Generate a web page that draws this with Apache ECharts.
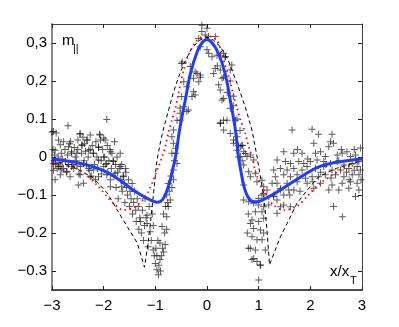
<!DOCTYPE html>
<html>
<head>
<meta charset="utf-8">
<script src="https://cdn.jsdelivr.net/npm/echarts@6/dist/echarts.min.js"></script>
<style>
  html, body { margin: 0; padding: 0; background: #fff; }
  #chart { width: 399px; height: 327px; }
</style>
</head>
<body>
<div id="chart"></div>
<script>
// axis ticks
const xTicks = [-3, -2, -1, 0, 1, 2, 3];
const yTicks = [-0.3, -0.2, -0.1, 0, 0.1, 0.2, 0.3];
const yTickText = ['\u22120.3', '\u22120.2', '\u22120.1', '0', '0.1', '0,2', '0,3'];

// model curves [x, y]
const blueFit = [[-3,-0.005],[-2.5,-0.015],[-2.07,-0.032],[-1.75,-0.055],[-1.43,-0.087],[-1.2,-0.106],[-1.05,-0.116],[-0.95,-0.119],[-0.86,-0.112],[-0.78,-0.09],[-0.71,-0.06],[-0.66,-0.03],[-0.61,0.0],[-0.52,0.08],[-0.42,0.15],[-0.32,0.22],[-0.19,0.277],[-0.1,0.3],[0,0.309],[0.1,0.3],[0.22,0.273],[0.35,0.22],[0.45,0.15],[0.55,0.071],[0.61,0.0],[0.66,-0.04],[0.72,-0.08],[0.8,-0.107],[0.9,-0.118],[1.0,-0.117],[1.15,-0.108],[1.42,-0.087],[1.75,-0.058],[2.13,-0.028],[2.5,-0.014],[3,-0.005]];

const redModel = [[-3,-0.012],[-2.94,-0.016],[-2.46,-0.034],[-2.13,-0.074],[-1.82,-0.121],[-1.62,-0.139],[-1.43,-0.134],[-1.24,-0.113],[-1.14,-0.092],[-1.04,-0.061],[-0.94,-0.026],[-0.87,0.0],[-0.81,0.026],[-0.75,0.063],[-0.68,0.097],[-0.61,0.13],[-0.55,0.168],[-0.45,0.23],[-0.35,0.27],[-0.22,0.303],[-0.1,0.316],[0,0.318],[0.1,0.316],[0.2,0.305],[0.26,0.285],[0.32,0.255],[0.45,0.197],[0.51,0.163],[0.58,0.13],[0.65,0.097],[0.74,0.063],[0.8,0.03],[0.87,0.0],[0.97,-0.052],[1.17,-0.105],[1.3,-0.128],[1.48,-0.14],[1.74,-0.13],[1.93,-0.105],[2.2,-0.068],[2.59,-0.034],[3,-0.008]];

const dashModel = [[-3,-0.008],[-2.6,-0.025],[-2.2,-0.055],[-1.93,-0.095],[-1.74,-0.139],[-1.54,-0.184],[-1.35,-0.226],[-1.21,-0.29],[-1.16,-0.245],[-1.1,-0.18],[-1.03,-0.09],[-0.97,-0.01],[-0.9,0.04],[-0.85,0.07],[-0.75,0.12],[-0.65,0.17],[-0.55,0.21],[-0.45,0.245],[-0.3,0.285],[-0.15,0.307],[0,0.315],[0.13,0.307],[0.26,0.29],[0.41,0.255],[0.58,0.194],[0.74,0.132],[0.87,0.071],[0.97,0.0],[1.0,-0.025],[1.1,-0.104],[1.16,-0.19],[1.21,-0.284],[1.42,-0.21],[1.55,-0.175],[1.74,-0.122],[1.94,-0.087],[2.16,-0.052],[2.5,-0.03],[3,-0.01]];

// measured points, by region
const ptsFarLeft = [[-3.0,0.066],[-2.92,0.063],[-2.69,0.082],[-2.98,0.02],[-2.95,0.005],[-2.96,-0.01],[-2.93,-0.02],[-2.9,-0.03],[-2.97,-0.035],[-2.88,0.0],[-2.86,-0.015],[-2.84,-0.025],[-2.82,0.01],[-2.8,-0.005],[-2.78,-0.03],[-2.75,0.02],[-2.74,-0.012],[-2.72,-0.04],[-2.7,0.005],[-2.68,-0.02],[-2.66,0.035],[-2.64,0.04],[-2.62,0.01],[-2.6,-0.02],[-2.58,-0.03],[-2.57,0.025],[-2.55,0.0],[-2.53,-0.01],[-2.5,0.045],[-2.5,0.02],[-2.48,-0.045],[-2.46,0.06],[-2.45,-0.025],[-2.43,0.01],[-2.42,0.03],[-2.4,0.052],[-2.38,-0.01],[-2.37,0.035],[-2.35,0.015],[-2.33,-0.02],[-2.31,0.045],[-2.3,0.0],[-2.28,-0.035],[-2.26,0.02],[-2.24,-0.05],[-2.22,0.03],[-2.2,0.01],[-2.18,-0.02],[-2.16,-0.06],[-2.15,0.04],[-2.13,0.0],[-2.12,-0.03],[-2.1,0.025],[-2.08,0.06],[-2.06,0.045],[-2.05,-0.01],[-2.04,-0.045],[-2.02,0.02],[-2.0,0.05],[-2.0,-0.025],
  [-2.97,0.067],[-2.875,0.045],[-2.84,0.032],[-2.94,0.018],[-2.78,0.04],[-2.68,0.027],[-2.62,0.014],[-2.52,0.01],[-2.42,0.032],[-2.455,0.062],[-2.33,0.045],[-2.26,0.058],[-2.29,0.018],[-2.2,0.01],[-2.1,0.027],[-2.07,0.058],[-1.97,0.045],[-2.0,0.0],[-2.1,-0.008],[-1.94,-0.017],[-1.87,0.014],[-1.81,-0.012],[-1.68,-0.025],[-1.58,-0.03],[-2.97,-0.017],[-2.875,-0.025],[-2.81,-0.034],[-2.71,-0.038],[-2.62,-0.025],[-2.52,-0.021],[-2.39,-0.017],[-2.29,-0.03],[-2.2,-0.034],[-2.84,-0.047],[-2.65,-0.052],[-2.455,-0.047],[-2.26,-0.052],[-2.1,-0.052],[-1.94,-0.047],[-1.78,-0.043],[-1.62,-0.052],[-2.94,-0.06],[-2.49,-0.074],[-2.39,-0.069],[-1.87,-0.078],[-1.65,-0.078]];

const ptsLeftDip = [[-1.98,0.0],[-1.96,-0.02],[-1.94,0.099],[-1.93,0.03],[-1.92,-0.04],[-1.9,-0.01],[-1.88,0.02],[-1.87,-0.06],[-1.85,-0.03],[-1.84,0.01],[-1.82,-0.01],[-1.8,-0.05],[-1.79,0.04],[-1.77,-0.02],[-1.76,-0.08],[-1.74,0.0],[-1.73,-0.04],[-1.72,-0.11],[-1.7,-0.03],[-1.68,0.01],[-1.67,-0.06],[-1.65,-0.02],[-1.64,-0.09],[-1.62,-0.05],[-1.6,-0.07],[-1.59,-0.12],[-1.57,-0.04],[-1.56,-0.08],[-1.54,-0.1],[-1.52,-0.06],[-1.5,-0.13],[-1.49,-0.09],[-1.47,-0.11],[-1.45,-0.07],[-1.44,-0.15],[-1.42,-0.12],[-1.4,-0.09],[-1.38,-0.14],[-1.37,-0.17],[-1.35,-0.11],[-1.33,-0.13],[-1.32,-0.19],[-1.3,-0.16],
  [-1.29,-0.17],[-1.27,-0.2],[-1.25,-0.14],[-1.23,-0.22],[-1.21,-0.18],[-1.2,-0.11],[-1.18,-0.16],[-1.16,-0.175],[-1.16,-0.153],[-1.14,-0.236],[-1.12,-0.13],[-1.1,-0.197],[-1.08,-0.22],[-1.06,-0.15],[-1.04,-0.245],[-1.04,-0.18],[-1.02,-0.26],[-1.0,-0.28],[-0.99,-0.24],[-0.97,-0.26],[-0.97,-0.297],[-0.95,-0.22],[-0.94,-0.31],[-0.93,-0.285],[-0.91,-0.27],[-0.91,-0.226],[-0.9,-0.3],[-0.88,-0.26],[-0.87,-0.183],[-0.86,-0.24],[-0.84,-0.25],[-0.84,-0.15],[-0.82,-0.2],[-0.81,-0.23],[-0.8,-0.13],[-0.78,-0.19],[-0.78,-0.157],[-0.78,-0.1],[-0.76,-0.12],[-0.75,-0.13],[-0.75,-0.07],[-0.73,-0.09],[-0.71,-0.113],[-0.7,-0.05],[-0.68,-0.08],[-0.65,-0.06],[-0.65,-0.034],[-0.63,-0.01],[-0.61,0.01],[-0.58,-0.017]];

const ptsPeak = [[-0.1,0.347],[0.0,0.339],[0.063,0.352],[-0.033,0.321],[0.031,0.317],[-0.1,0.33],[-0.16,0.312],[0.16,0.317],[-0.13,0.29],[0.0,0.282],[0.031,0.273],[0.096,0.264],[0.193,0.268],[0.322,0.273],[0.354,0.264],[-0.49,0.246],[-0.325,0.238],[-0.23,0.224],[-0.195,0.22],[-0.13,0.216],[-0.26,0.207],[-0.16,0.198],[-0.45,0.198],[-0.39,0.185],[-0.26,0.172],[-0.23,0.163],[-0.29,0.159],[-0.49,0.159],[0.128,0.22],[0.16,0.233],[0.257,0.229],[0.29,0.207],[0.225,0.19],[0.257,0.176],[0.45,0.229],[0.48,0.242],[0.322,0.154],[0.45,0.128],[0.29,0.15],[-0.45,0.132],[-0.39,0.12],[-0.36,0.124],[-0.52,0.115],[-0.58,0.097],[-0.65,0.071],[-0.68,0.053],[-0.65,0.036],[-0.61,0.023],[-0.68,0.01],[-0.52,0.097],[0.257,0.088],[0.45,0.062],[0.515,0.045],[0.58,0.053],[0.645,0.027],[0.71,0.014],[0.645,0.001],[0.774,0.001],[0.55,0.097],[0.387,0.097],[0.322,0.071],
  [-0.48,0.25],[-0.52,0.129],[0.26,0.268],[0.35,0.263],[0.2,0.24],[0.32,0.21],[0.45,0.2],[0.39,0.17],[0.51,0.16],[0.51,0.135],[0.32,0.097],[0.26,0.09],[0.58,0.1],[0.64,0.07],[0.68,0.03],[0.61,0.03],[0.61,0.0],[0.68,-0.01],[-0.13,0.21]];

const ptsRightDip = [[0.516,0.036],[0.678,0.031],[0.58,0.018],[0.742,0.009],[0.839,0.005],[0.904,-0.008],[0.71,-0.021],[0.807,-0.039],[0.936,-0.043],[0.839,-0.052],[0.968,-0.065],[1.065,-0.061],[1.097,-0.078],[1.162,-0.087],[1.065,-0.1],[1.097,-0.096],[1.0,-0.109],[0.71,-0.113],[0.807,-0.118],[0.904,-0.122],[1.0,-0.126],[1.097,-0.131],[1.195,-0.126],[0.936,-0.144],[1.065,-0.144],[0.871,-0.166],[1.0,-0.17],[1.097,-0.161],[0.904,-0.188],[1.033,-0.192],[1.097,-0.2],[0.871,-0.21],[0.968,-0.218],[1.065,-0.218],[0.839,-0.24],[0.936,-0.245],[1.13,-0.245],[0.904,-0.267],[0.968,-0.275],[1.033,-0.284],[1.0,-0.324],[1.26,-0.069],[1.29,-0.1],[1.42,-0.083],[1.356,-0.113],[1.485,-0.1],[1.582,-0.087],[1.42,-0.131],[1.485,-0.126],[1.614,-0.131],[1.356,-0.148],
  [0.71,-0.074],[0.8,-0.15],[0.78,-0.2],[0.84,-0.175],[0.8,-0.24],[0.87,-0.27],[1.03,-0.285]];

const ptsFarRight = [[1.647,0.071],[2.034,0.073],[2.16,0.06],[2.42,0.06],[2.39,0.04],[2.45,0.036],[2.357,0.027],[1.485,0.014],[1.68,0.01],[1.84,0.01],[2.067,0.036],[2.1,0.01],[2.196,0.014],[2.29,0.001],[2.52,0.005],[2.616,0.01],[2.71,0.014],[2.777,0.001],[2.874,0.005],[1.356,-0.008],[1.518,-0.012],[1.615,-0.017],[1.776,-0.012],[1.873,-0.017],[2.0,-0.012],[2.13,-0.008],[2.26,-0.012],[2.39,-0.017],[2.52,-0.012],[2.65,-0.021],[2.81,-0.017],[2.94,-0.012],[1.29,-0.034],[1.42,-0.03],[1.55,-0.034],[1.68,-0.03],[1.84,-0.034],[1.937,-0.025],[2.1,-0.03],[2.26,-0.025],[2.42,-0.034],[2.584,-0.034],[2.745,-0.03],[2.906,-0.025],[2.97,-0.034],[1.324,-0.052],[1.485,-0.047],[1.615,-0.052],[1.744,-0.047],[1.905,-0.056],[2.034,-0.052],[2.16,-0.052],[2.29,-0.047],[2.487,-0.047],[2.65,-0.052],[2.81,-0.047],[2.94,-0.047],[1.356,-0.069],[1.55,-0.069],[1.744,-0.065],[1.937,-0.069],[2.196,-0.069],[2.42,-0.074],[2.616,-0.069],[2.777,-0.065],[2.906,-0.069],[1.42,-0.087],[1.68,-0.087],[2.067,-0.082],[2.357,-0.087],[2.55,-0.087],[2.745,-0.082],[2.94,-0.087],[2.874,-0.104],[1.29,-0.104],[2.45,-0.13],[2.62,-0.157],[2.97,0.024],
  [2.3,-0.02],[2.55,-0.01],[2.7,-0.04],[2.85,-0.035],[2.6,0.02],[2.85,0.02],[2.2,-0.04],[1.95,-0.005],[1.75,0.02],[2.05,-0.065],[1.6,-0.1],[1.8,-0.09],[2.98,-0.06],[2.75,-0.06],[2.4,-0.055]];

const measured = [].concat(ptsFarLeft, ptsLeftDip, ptsPeak, ptsRightDip, ptsFarRight);

const FONT = 'Liberation Sans, Arial, sans-serif';
const plus = 'path://M3,0H4V3H7V4H4V7H3V4H0V3H3Z';

const chart = echarts.init(document.getElementById('chart'), null, { renderer: 'canvas' });

const tickCommon = { show: true, inside: true, length: 4, lineStyle: { color: '#222', width: 1 } };

chart.setOption({
    animation: false,
    grid: { left: 52, right: 37, top: 24, bottom: 37 },
    xAxis: [{
        type: 'value', min: -3, max: 3, interval: 1, position: 'bottom',
        axisLine: { show: true, onZero: false, lineStyle: { color: '#111', width: 1.5 } },
        axisTick: tickCommon,
        axisLabel: {
            color: '#000', fontSize: 15, fontFamily: FONT, margin: 8,
            formatter: v => (v < 0 ? '\u2212' + Math.abs(v) : String(v))
        },
        splitLine: { show: false }
    }, {
        type: 'value', min: -3, max: 3, interval: 1, position: 'top',
        axisLine: { show: true, onZero: false, lineStyle: { color: '#444', width: 1 } },
        axisTick: tickCommon,
        axisLabel: { show: false },
        splitLine: { show: false }
    }],
    yAxis: [{
        type: 'value', min: -0.35, max: 0.35, position: 'left',
        axisLine: { show: true, onZero: false, lineStyle: { color: '#888', width: 2 } },
        axisTick: Object.assign({ customValues: yTicks }, tickCommon),
        axisLabel: {
            customValues: yTicks,
            color: '#000', fontSize: 15, fontFamily: FONT, margin: 5,
            formatter: v => {
                const i = yTicks.findIndex(t => Math.abs(t - v) < 1e-6);
                return i >= 0 ? yTickText[i] : '';
            }
        },
        splitLine: { show: false }
    }, {
        type: 'value', min: -0.35, max: 0.35, position: 'right',
        axisLine: { show: true, onZero: false, lineStyle: { color: '#444', width: 1 } },
        axisTick: Object.assign({ customValues: yTicks }, tickCommon),
        axisLabel: { show: false },
        splitLine: { show: false }
    }],
    graphic: [
        { type: 'text', left: 62, top: 33, style: { text: 'm', font: '15px ' + FONT, fill: '#000' } },
        { type: 'text', left: 73, top: 43, style: { text: '||', font: '11px ' + FONT, fill: '#000' } },
        { type: 'text', left: 330, top: 264, style: { text: 'x/x', font: '15px ' + FONT, fill: '#000' } },
        { type: 'text', left: 350, top: 275, style: { text: 'T', font: '11px ' + FONT, fill: '#000' } }
    ],
    series: [{
        type: 'scatter',
        data: measured,
        symbol: plus,
        symbolSize: 7,
        itemStyle: { color: 'rgba(0,0,0,0.8)' },
        silent: true
    }, {
        type: 'line',
        data: dashModel,
        showSymbol: false,
        lineStyle: { color: '#000', width: 1, type: [4, 3] },
        z: 3
    }, {
        type: 'line',
        data: redModel,
        showSymbol: false,
        smooth: 0.3,
        lineStyle: { color: '#ff0000', width: 1.8, type: [1.5, 3.5] },
        z: 4
    }, {
        type: 'line',
        data: blueFit,
        showSymbol: false,
        smooth: 0.35,
        lineStyle: { color: '#1f3dff', width: 3 },
        z: 5
    }]
});
</script>
</body>
</html>
